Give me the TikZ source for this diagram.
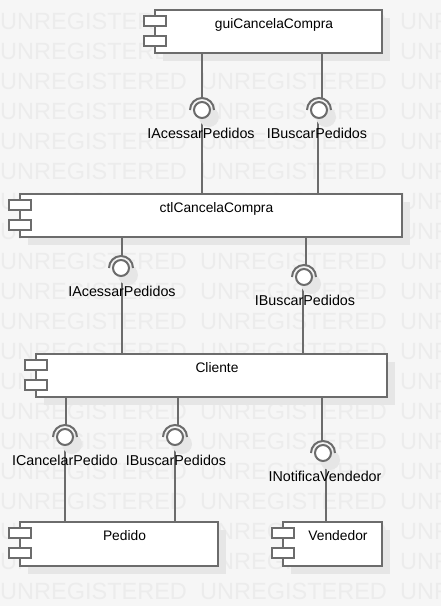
\documentclass[tikz,border=0pt]{standalone}
\usepackage{fontspec}
\setmainfont{Liberation Sans}
\definecolor{bg}{RGB}{246,246,246}
\definecolor{wm}{RGB}{236,236,236}
\definecolor{shd}{RGB}{230,230,230}
\definecolor{ln}{RGB}{108,108,108}
\tikzset{
  comp/.style={draw=ln, line width=2pt, fill=white, anchor=north west, inner sep=0pt, outer sep=0pt},
  iconbox/.style={draw=ln, line width=2pt, fill=white},
  ttl/.style={anchor=base, inner sep=0pt, font=\fontsize{13.8}{16}\selectfont},
  lbl/.style={anchor=base, inner sep=0pt, font=\fontsize{14.3}{17}\selectfont},
  wmk/.style={anchor=base west, inner sep=0pt, text=wm, font=\fontsize{23.5}{28}\selectfont},
  conn/.style={draw=ln, line width=2pt},
  ball/.style={circle, draw=ln, line width=2pt, fill=white, minimum size=16pt, inner sep=0pt, outer sep=0pt},
}
\newcommand\umlcomp[6]{%
  \fill[shd] (#2+8,-#3-8) rectangle (#4+8,-#5-8);
  \node[comp, minimum width={#4-#2}, minimum height={#5-#3}] (#1) at (#2,-#3) {};
  \draw[iconbox] (#2-11,-#3-6) rectangle (#2+11,-#3-16);
  \draw[iconbox] (#2-11,-#3-26) rectangle (#2+11,-#3-36);
  \node[ttl] (#1t) at ({(#2+11+#4)/2},-#3-18) {#6};
}
% name, socket x, ball x, ball y, ball-line x, label, upper, lower, label x
\newcommand\umliface[9]{%
  \coordinate (#1s) at (#2,-#4+12);
  \coordinate (#1b) at (#5,-#4-8);
  \draw[conn] (#1s |- #7.south) -- (#1s);
  \draw[conn] (#1b) -- (#1b |- #8.north);
  \fill[shd] (#3+7,-#4-7) circle (10);
  \node[ball] (#1) at (#3,-#4) {};
  \draw[conn] (#3-12,-#4) arc[start angle=180, end angle=0, radius=12];
  \node[lbl] (#1l) at (#9,-#4-28) {#6};
}
\begin{document}
\begin{tikzpicture}[x=1pt,y=1pt]
\useasboundingbox (0,0) rectangle (441,-606);
\clip (0,0) rectangle (441,-606);
\fill[bg] (0,0) rectangle (441,-606);
\foreach \k in {0,...,19}{\foreach \i in {0,1,2}{\node[wmk] at (\i*200,{-29-30*\k}) {UNREGISTERED};}}
\umlcomp{gui}{155}{10}{382}{53}{guiCancelaCompra}
\umlcomp{ctl}{20}{194}{402}{237}{ctlCancelaCompra}
\umlcomp{cli}{36}{354}{387}{397}{Cliente}
\umlcomp{ped}{20}{522}{218}{566}{Pedido}
\umlcomp{ven}{283}{522}{382}{566}{Vendedor}
\umliface{iaa}{202}{202}{110}{202}{IAcessarPedidos}{gui}{ctl}{201}
\umliface{iba}{322}{319}{110}{318}{IBuscarPedidos}{gui}{ctl}{317}
\umliface{iab}{122}{121}{268}{122}{IAcessarPedidos}{ctl}{cli}{122}
\umliface{ibb}{306}{304}{277}{303}{IBuscarPedidos}{ctl}{cli}{305}
\umliface{icc}{66}{65}{437}{65}{ICancelarPedido}{cli}{ped}{65}
\umliface{ibc}{178}{175}{437}{175}{IBuscarPedidos}{cli}{ped}{176}
\umliface{inc}{322}{323}{453}{326}{INotificaVendedor}{cli}{ven}{325}
\end{tikzpicture}
\end{document}
